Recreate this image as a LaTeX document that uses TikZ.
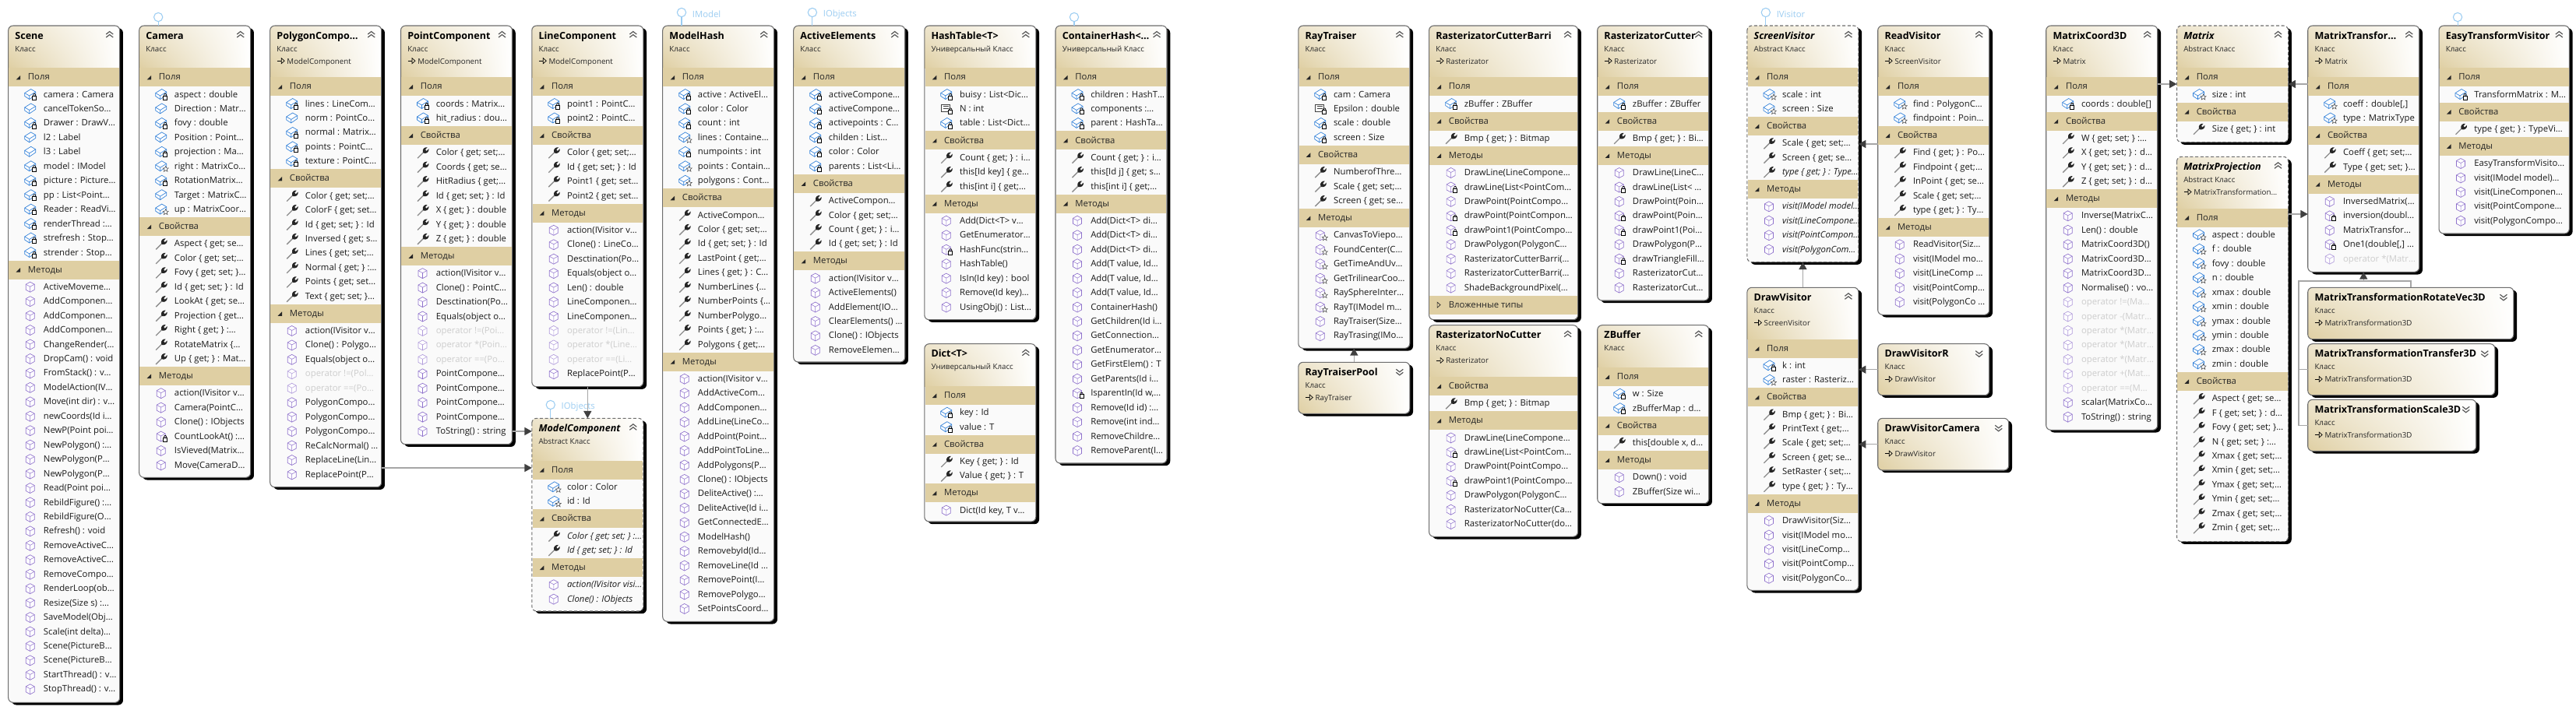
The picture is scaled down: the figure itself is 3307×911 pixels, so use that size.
\documentclass[tikz,border=0pt]{standalone}
\usepackage{fontspec}
\setmainfont{Open Sans}
\usetikzlibrary{positioning, arrows.meta, shadows, shadings}

\definecolor{bartan}{HTML}{DFCFA3}
\definecolor{rowbg}{HTML}{FAFAFA}
\definecolor{boxline}{HTML}{6E6E6E}
\definecolor{linegray}{HTML}{A6A6A6}
\definecolor{tipgray}{HTML}{404040}
\definecolor{fadetext}{HTML}{CDCDCD}
\definecolor{lolliblue}{HTML}{9CCDF2}
\definecolor{cubepurple}{HTML}{8F72CC}
\definecolor{brickblue}{HTML}{2F7FD8}

\newcommand{\rowfont}{\fontsize{8.5}{10}\selectfont}
\newcommand{\smallfont}{\fontsize{7.3}{9}\selectfont}

% icon parts, coordinates in pixels round the row centre
\newcommand{\iconbrick}{\draw[brickblue, line width=.5pt, fill=white] (-7,-2) -- (1,-7) -- (7,-3.5) -- (7,.5) -- (-1,6) -- (-7,2) -- cycle;
  \draw[brickblue, line width=.5pt] (-7,-2) -- (-1,1.5) -- (7,-3.5) (-1,1.5) -- (-1,6);}
\newcommand{\iconcube}[1]{\draw[cubepurple!#1, line width=.5pt, fill=white] (0,-6.5) -- (5.5,-3.5) -- (5.5,3.5) -- (0,6.5) -- (-5.5,3.5) -- (-5.5,-3.5) -- cycle;
  \draw[cubepurple!#1, line width=.4pt] (-5.5,-3.5) -- (0,-.5) -- (5.5,-3.5) (0,-.5) -- (0,6.5);}
\newcommand{\iconlock}{\draw[black, line width=.55pt, fill=white] (3,1.5) rectangle (8,6.5);
  \draw[black, line width=.55pt] (4,1.5) -- (4,0) -- (5,-1) -- (6,-1) -- (7,0) -- (7,1.5);}
\newcommand{\iconstar}{\draw[black!70, line width=.4pt, fill=white] (6,-.5) -- (7,2) -- (9.5,2.2) -- (7.6,3.8) -- (8.3,6.5) -- (6,5) -- (3.7,6.5) -- (4.4,3.8) -- (2.5,2.2) -- (5,2) -- cycle;}

\tikzset{
    classnode/.style={fill=rowbg, rounded corners=4.5pt, anchor=north west, inner sep=0pt, outer sep=0pt,
        drop shadow={shadow xshift=3.2pt, shadow yshift=-2.4pt, opacity=1, fill=black}},
    borderline/.style={draw=boxline, line width=.8pt, rounded corners=4.5pt},
    headshade/.style={lower left=bartan, upper left=bartan!55!white, upper right=white, lower right=white},
    barbox/.style={fill=bartan, anchor=north west, inner sep=0pt, outer sep=0pt, minimum height=18pt},
    titletext/.style={anchor=mid west, inner sep=0pt, font=\fontsize{9.4}{11}\selectfont\bfseries},
    kindtext/.style={anchor=mid west, inner sep=0pt, font=\smallfont, text=black!85},
    bartext/.style={anchor=mid west, inner sep=0pt, font=\rowfont, text=black!85},
    rowtext/.style={anchor=mid west, inner sep=0pt, font=\rowfont, text=black!90},
    txop/.style={text=fadetext},
    txmi/.style={font=\rowfont\itshape},
    txpi/.style={font=\rowfont\itshape},
    abstract/.style={borderline/.style={draw=boxline, line width=.8pt, rounded corners=4.5pt, densely dashed},
        titletext/.style={anchor=mid west, inner sep=0pt, font=\fontsize{9.4}{11}\selectfont\bfseries\itshape}},
    lolli/.style={circle, draw=lolliblue, fill=white, line width=.8pt, minimum size=8.5pt, inner sep=0pt, outer sep=0pt},
    lolliline/.style={draw=lolliblue, line width=.8pt},
    lollitext/.style={anchor=mid west, inner sep=0pt, yshift=-2pt, font=\rowfont, text=lolliblue},
    inherit/.style={draw=linegray, line width=1pt, -{Triangle[length=7pt,width=7.5pt,fill=tipgray,color=tipgray]}},
    treeline/.style={draw=linegray, line width=1pt},
    % member icons
    fl/.pic={\iconbrick \iconlock},
    fp/.pic={\iconbrick},
    fs/.pic={\iconbrick \iconstar},
    cl/.pic={\draw[black!75, line width=.5pt, fill=white] (-6,-6) rectangle (5,3);
        \draw[black!75, line width=.5pt] (-4,-3.5) -- (3,-3.5) (-4,-1) -- (3,-1); \iconlock},
    pr/.pic={\draw[black!45, line width=1pt] (-6.5,7) -- (1,-.5);
        \fill[black!85] (.5,-.5) .. controls (-1,-5) and (3,-7.5) .. (6,-7) -- (3.5,-4) -- (5,-2.2) -- (8,-5) .. controls (8.5,-1) and (5,1.5) .. (1.5,.5) -- cycle;},
    pi/.pic={\draw[black!45, line width=1pt] (-6.5,7) -- (1,-.5);
        \fill[black!85] (.5,-.5) .. controls (-1,-5) and (3,-7.5) .. (6,-7) -- (3.5,-4) -- (5,-2.2) -- (8,-5) .. controls (8.5,-1) and (5,1.5) .. (1.5,.5) -- cycle;},
    me/.pic={\iconcube{100}},
    mi/.pic={\iconcube{100}},
    op/.pic={\iconcube{70}},
    ml/.pic={\iconcube{100} \iconlock},
    ms/.pic={\iconcube{100} \iconstar},
    chevup/.pic={\draw[black!65, line width=.9pt] (-4.5,-1) -- (0,-4.5) -- (4.5,-1) (-4.5,3) -- (0,-.5) -- (4.5,3);},
    chevdown/.pic={\draw[black!65, line width=.9pt] (-4.5,-3) -- (0,.5) -- (4.5,-3) (-4.5,1) -- (0,4.5) -- (4.5,1);},
    inhsign/.pic={\draw[black, line width=.5pt] (0,0) -- (5.5,0); \draw[black, line width=.5pt] (5.5,-3.5) -- (9.5,0) -- (5.5,3.5) -- cycle;},
}

\newcount\seccount

% body of a class: shadow, gradient head, outline, title
\newcommand{\boxbody}[9][]{%
    \begin{scope}[#1]
        \node[classnode, minimum width=#5*0.75pt, minimum height=(#6-#4)*0.75pt] (#2) at (#3,#4) {};
        \begin{scope}
            \clip[rounded corners=4.5pt] (#2.north west) rectangle (#2.south east);
            \shade[headshade] (#3,#4) rectangle (#3+#5,#7);
        \end{scope}
        \draw[borderline] (#2.north west) rectangle (#2.south east);
        \node[titletext] (#2-title) at (#3+8.5,#4+13.7) {#8};
        \node[kindtext] (#2-kind) at (#3+8.5,#4+29.7) {#9};
    \end{scope}
}

% [style]{name}{x}{top}{width}{bottom}{title}{kind}{parent}
\newcommand{\classbox}[9][]{%
    \gdef\cname{#2}\gdef\cx{#3}\gdef\cw{#5}\global\seccount=0
    \def\tmpparent{#9}
    \ifx\tmpparent\empty \pgfmathsetmacro\headh{#4+54.3}\else \pgfmathsetmacro\headh{#4+66.3}\fi
    \xdef\cury{\headh}
    \boxbody[#1]{#2}{#3}{#4}{#5}{#6}{\headh}{#7}{#8}
    \pic at (#3+#5-13,#4+12) {chevup};
    \ifx\tmpparent\empty\else
        \pic at (#3+9,#4+45.2) {inhsign};
        \node[kindtext] (#2-parent) at (#3+21.5,#4+45.7) {#9};
    \fi
}

% {name}{x}{top}{width}{bottom}{title}{parent}
\newcommand{\closedbox}[7]{%
    \boxbody{#1}{#2}{#3}{#4}{#5}{#5}{#6}{Класс}
    \pic at (#2+#4-13,#3+12) {chevdown};
    \pic at (#2+9,#3+45.2) {inhsign};
    \node[kindtext] (#1-parent) at (#2+21.5,#3+45.7) {#7};
}

% bar plus rows, the list holds icon/text pairs
\newcommand{\sect}[2]{%
    \global\advance\seccount by 1
    \edef\secname{\cname-s\the\seccount}
    \node[barbox, minimum width=(\cw-1.5)*0.75pt] (\secname) at (\cx+.75,\cury) {};
    \fill[black!85] (\cx+10,\cury+15) -- (\cx+15.5,\cury+15) -- (\cx+15.5,\cury+9.5) -- cycle;
    \node[bartext] (\secname-label) at (\cx+25,\cury+12) {#1};
    \pgfmathparse{\cury+25}\xdef\cury{\pgfmathresult}
    \foreach \kind/\rowtxt [count=\ri] in {#2} {
        \pgfmathsetmacro\rowy{\cury+9.2}
        \pic at (\cx+28,\rowy) {\kind};
        \node[rowtext, tx\kind/.try] (\secname-r\ri) at (\cx+45,\rowy) {\rowtxt};
        \pgfmathparse{\cury+18.45}\xdef\cury{\pgfmathresult}
    }
    \pgfmathparse{\cury+.8}\xdef\cury{\pgfmathresult}
}

\begin{document}
\begin{tikzpicture}[x=0.75pt, y=-0.75pt]
    \useasboundingbox (0,0) rectangle (3307,911);
    \fill[white] (0,0) rectangle (3307,911);

    % model group
    \classbox{scene}{10.7}{33}{143}{902.3}{Scene}{Класс}{}
    \sect{Поля}{fl/camera : Camera, fp/cancelTokenSo…, fl/Drawer : DrawV…, fp/l2 : Label, fp/l3 : Label, fl/model : IModel, fl/picture : Picture…, fl/pp : List<Point…, fl/Reader : ReadVi…, fl/renderThread :…, fl/strefresh : Stop…, fl/strender : Stop…}
    \sect{Методы}{me/ActiveMoveme…, me/AddComponen…, me/AddComponen…, me/AddComponen…, me/ChangeRender(…, me/DropCam() : void, me/FromStack() : v…, me/ModelAction(IV…, me/Move(int dir) : v…, me/newCoords(Id i…, me/NewP(Point poi…, me/NewPolygon() :…, me/NewPolygon(P…, me/NewPolygon(P…, me/Read(Point poi…, me/RebildFigure() :…, me/RebildFigure(O…, me/Refresh() : void, me/RemoveActiveC…, me/RemoveActiveC…, me/RemoveCompo…, me/RenderLoop(ob…, me/Resize(Size s) :…, me/SaveModel(Obj…, me/Scale(int delta)…, me/Scene(PictureB…, me/Scene(PictureB…, me/StartThread() : v…, me/StopThread() : v…}

    \classbox{camera}{178.7}{33}{143}{613.3}{Camera}{Класс}{}
    \sect{Поля}{fl/aspect : double, fp/Direction : Matr…, fl/fovy : double, fp/Position : Point…, fl/projection : Ma…, fs/right : MatrixCo…, fl/RotationMatrix…, fp/Target : MatrixC…, fs/up : MatrixCoor…}
    \sect{Свойства}{pr/Aspect \{ get; se…, pr/Color \{ get; set;…, pr/Fovy \{ get; set; \}…, pr/Id \{ get; set; \} : Id, pr/LookAt \{ get; se…, pr/Projection \{ get…, pr/Right \{ get; \} :…, pr/RotateMatrix \{…, pr/Up \{ get; \} : Mat…}
    \sect{Методы}{me/action(IVisitor v…, me/Camera(PointC…, me/Clone() : IObjects, ml/CountLookAt() :…, me/IsVieved(Matrix…, me/Move(CameraD…}

    \classbox{polygon}{346.7}{33}{143}{625.7}{PolygonCompo…}{Класс}{ModelComponent}
    \sect{Поля}{fl/lines : LineCom…, fp/norm : PointCo…, fl/normal : Matrix…, fl/points : PointC…, fl/texture : PointC…}
    \sect{Свойства}{pr/Color \{ get; set;…, pr/ColorF \{ get; set…, pr/Id \{ get; set; \} : Id, pr/Inversed \{ get; s…, pr/Lines \{ get; set;…, pr/Normal \{ get; \} :…, pr/Points \{ get; set…, pr/Text \{ get; set; \}…}
    \sect{Методы}{me/action(IVisitor v…, me/Clone() : Polygo…, me/Equals(object o…, op/operator !=(Pol…, op/operator ==(Po…, me/PolygonCompo…, me/PolygonCompo…, me/PolygonCompo…, me/ReCalcNormal() …, me/ReplaceLine(Lin…, me/ReplacePoint(P…}

    \classbox{point}{514.5}{33}{143}{570.7}{PointComponent}{Класс}{ModelComponent}
    \sect{Поля}{fl/coords : Matrix…, fl/hit\_radius : dou…}
    \sect{Свойства}{pr/Color \{ get; set;…, pr/Coords \{ get; se…, pr/HitRadius \{ get;…, pr/Id \{ get; set; \} : Id, pr/X \{ get; \} : double, pr/Y \{ get; \} : double, pr/Z \{ get; \} : double}
    \sect{Методы}{me/action(IVisitor v…, me/Clone() : PointC…, me/Desctination(Po…, me/Equals(object o…, op/operator !=(Poi…, op/operator *(Poin…, op/operator ==(Po…, me/PointCompone…, me/PointCompone…, me/PointCompone…, me/PointCompone…, me/ToString() : string}

    \classbox{line}{682.8}{33}{143}{496.7}{LineComponent}{Класс}{ModelComponent}
    \sect{Поля}{fl/point1 : PointC…, fl/point2 : PointC…}
    \sect{Свойства}{pr/Color \{ get; set;…, pr/Id \{ get; set; \} : Id, pr/Point1 \{ get; set…, pr/Point2 \{ get; set…}
    \sect{Методы}{me/action(IVisitor v…, me/Clone() : LineCo…, me/Desctination(Po…, me/Equals(object o…, me/Len() : double, me/LineComponen…, me/LineComponen…, op/operator !=(Lin…, op/operator *(Line…, op/operator ==(Li…, me/ReplacePoint(P…}

    \classbox[abstract]{modelcomp}{682.8}{537.3}{143}{785}{ModelComponent}{Abstract Класс}{}
    \sect{Поля}{fs/color : Color, fs/id : Id}
    \sect{Свойства}{pi/Color \{ get; set; \} :…, pi/Id \{ get; set; \} : Id}
    \sect{Методы}{mi/action(IVisitor visi…, mi/Clone() : IObjects}

    \classbox{modelhash}{850.7}{33}{143}{798.3}{ModelHash}{Класс}{}
    \sect{Поля}{fl/active : ActiveEl…, fl/color : Color, fl/count : int, fs/lines : Containe…, fl/numpoints : int, fs/points : Contain…, fs/polygons : Cont…}
    \sect{Свойства}{pr/ActiveCompon…, pr/Color \{ get; set;…, pr/Id \{ get; set; \} : Id, pr/LastPoint \{ get;…, pr/Lines \{ get; \} : C…, pr/NumberLines \{…, pr/NumberPoints \{…, pr/NumberPolygo…, pr/Points \{ get; \} :…, pr/Polygons \{ get;…}
    \sect{Методы}{me/action(IVisitor v…, me/AddActiveCom…, me/AddComponen…, me/AddLine(LineCo…, me/AddPoint(Point…, me/AddPointToLine…, me/AddPolygons(P…, me/Clone() : IObjects, me/DeliteActive() :…, me/DeliteActive(Id i…, me/GetConnectedE…, me/ModelHash(), me/RemovebyId(Id…, me/RemoveLine(Id …, me/RemovePoint(I…, me/RemovePolygo…, me/SetPointsCoord…}

    \classbox{activeel}{1018.7}{33}{143}{465}{ActiveElements}{Класс}{}
    \sect{Поля}{fl/activeCompone…, fl/activeCompone…, fl/activepoints : C…, fl/childen : List…, fl/color : Color, fl/parents : List<Li…}
    \sect{Свойства}{pr/ActiveCompon…, pr/Color \{ get; set;…, pr/Count \{ get; \} : i…, pr/Id \{ get; set; \} : Id}
    \sect{Методы}{me/action(IVisitor v…, me/ActiveElements(), me/AddElement(IO…, me/ClearElements() …, me/Clone() : IObjects, me/RemoveElemen…}

    \classbox{hashtable}{1186.8}{33}{143}{410.7}{HashTable<T>}{Универсальный Класс}{}
    \sect{Поля}{fl/buisy : List<Dic…, cl/N : int, fl/table : List<Dict…}
    \sect{Свойства}{pr/Count \{ get; \} : i…, pr/this[Id key] \{ ge…, pr/this[int i] \{ get;…}
    \sect{Методы}{me/Add(Dict<T> v…, me/GetEnumerator…, ml/HashFunc(strin…, me/HashTable(), me/IsIn(Id key) : bool, me/Remove(Id key)…, me/UsingObj() : List…}

    \classbox{dict}{1186.8}{441.7}{143}{670}{Dict<T>}{Универсальный Класс}{}
    \sect{Поля}{fl/key : Id, fl/value : T}
    \sect{Свойства}{pr/Key \{ get; \} : Id, pr/Value \{ get; \} : T}
    \sect{Методы}{me/{Dict(Id key, T v…}}

    \classbox{containerh}{1355}{33}{143}{595}{ContainerHash<…}{Универсальный Класс}{}
    \sect{Поля}{fl/children : HashT…, fl/components :…, fl/parent : HashTa…}
    \sect{Свойства}{pr/Count \{ get; \} : i…, pr/this[Id j] \{ get; s…, pr/this[int i] \{ get;…}
    \sect{Методы}{me/Add(Dict<T> di…, me/Add(Dict<T> di…, me/Add(Dict<T> di…, me/{Add(T value, Id…}, me/{Add(T value, Id…}, me/{Add(T value, Id…}, me/ContainerHash(), me/GetChildren(Id i…, me/GetConnection…, me/GetEnumerator…, me/GetFirstElem() : T, me/GetParents(Id i…, ml/{IsparentIn(Id w,…}, me/Remove(Id id) :…, me/Remove(int ind…, me/RemoveChildre…, me/RemoveParent(I…}

    % render group
    \classbox{raytr}{1666.8}{33}{143}{447.3}{RayTraiser}{Класс}{}
    \sect{Поля}{fl/cam : Camera, cl/Epsilon : double, fl/scale : double, fl/screen : Size}
    \sect{Свойства}{pr/NumberofThre…, pr/Scale \{ get; set;…, pr/Screen \{ get; se…}
    \sect{Методы}{ms/CanvasToViepo…, ms/FoundCenter(C…, ms/GetTimeAndUv…, ms/GetTrilinearCoo…, ms/RaySphereInter…, ms/RayT(IModel m…, me/RayTraiser(Size…, me/RayTrasing(IMo…}

    \closedbox{raypool}{1666.8}{465.3}{143}{531.3}{RayTraiserPool}{RayTraiser}

    \classbox{barri}{1834.6}{33}{191}{410.7}{RasterizatorCutterBarri}{Класс}{Rasterizator}
    \sect{Поля}{fl/zBuffer : ZBuffer}
    \sect{Свойства}{pr/Bmp \{ get; \} : Bitmap}
    \sect{Методы}{me/DrawLine(LineCompone…, ml/drawLine(List<PointCom…, me/DrawPoint(PointCompo…, ml/drawPoint(PointCompon…, ml/drawPoint1(PointCompo…, me/DrawPolygon(PolygonC…, me/RasterizatorCutterBarri(…, me/RasterizatorCutterBarri(…, me/ShadeBackgroundPixel(…}
    \node[barbox, minimum width=189.5*0.75pt] (barri-nested) at (\cx+.75,\cury) {};
    \draw[black!85, line width=.5pt] (\cx+10.5,\cury+8.5) -- (\cx+14.5,\cury+12) -- (\cx+10.5,\cury+15.5) -- cycle;
    \node[bartext] (barri-nested-label) at (\cx+25,\cury+12) {Вложенные типы};

    \classbox{nocutter}{1834.6}{417.7}{191}{689.3}{RasterizatorNoCutter}{Класс}{Rasterizator}
    \sect{Свойства}{pr/Bmp \{ get; \} : Bitmap}
    \sect{Методы}{me/DrawLine(LineCompone…, ml/drawLine(List<PointCom…, me/DrawPoint(PointCompo…, ml/drawPoint1(PointCompo…, me/DrawPolygon(PolygonC…, me/RasterizatorNoCutter(Ca…, me/RasterizatorNoCutter(do…}

    \classbox{cutter}{2050.7}{33}{143}{386}{RasterizatorCutter}{Класс}{Rasterizator}
    \sect{Поля}{fl/zBuffer : ZBuffer}
    \sect{Свойства}{pr/Bmp \{ get; \} : Bi…}
    \sect{Методы}{me/DrawLine(LineC…, ml/drawLine(List< …, me/DrawPoint(Poin…, ml/drawPoint(Poin…, ml/drawPoint1(Poi…, me/DrawPolygon(P…, ml/drawTriangleFill…, me/RasterizatorCut…, me/RasterizatorCut…}

    \classbox{zbuffer}{2050.7}{417.7}{143}{646.7}{ZBuffer}{Класс}{}
    \sect{Поля}{fl/w : Size, fl/zBufferMap : d…}
    \sect{Свойства}{pr/{this[double x, d…}}
    \sect{Методы}{me/Down() : void, me/ZBuffer(Size wi…}

    % visitors
    \classbox[abstract]{screenv}{2242.9}{33}{143}{336.7}{ScreenVisitor}{Abstract Класс}{}
    \sect{Поля}{fs/scale : int, fs/screen : Size}
    \sect{Свойства}{pr/Scale \{ get; set;…, pr/Screen \{ get; se…, pi/type \{ get; \} : Type…}
    \sect{Методы}{mi/visit(IModel model…, mi/visit(LineCompone…, mi/visit(PointCompon…, mi/visit(PolygonCom…}

    \classbox{drawv}{2242.9}{369.3}{143}{758.3}{DrawVisitor}{Класс}{ScreenVisitor}
    \sect{Поля}{fl/k : int, fs/raster : Rasteriz…}
    \sect{Свойства}{pr/Bmp \{ get; \} : Bi…, pr/PrintText \{ get;…, pr/Scale \{ get; set;…, pr/Screen \{ get; se…, pr/SetRaster \{ set;…, pr/type \{ get; \} : Ty…}
    \sect{Методы}{me/DrawVisitor(Siz…, me/visit(IModel mo…, me/visit(LineComp…, me/visit(PointComp…, me/visit(PolygonCo…}

    \classbox{readv}{2410.7}{33}{143}{404.3}{ReadVisitor}{Класс}{ScreenVisitor}
    \sect{Поля}{fs/find : PolygonC…, fs/findpoint : Poin…}
    \sect{Свойства}{pr/Find \{ get; \} : Po…, pr/Findpoint \{ get;…, pr/InPoint \{ get; se…, pr/Scale \{ get; set;…, pr/type \{ get; \} : Ty…}
    \sect{Методы}{me/ReadVisitor(Siz…, me/visit(IModel mo…, me/visit(LineComp …, me/visit(PointComp…, me/visit(PolygonCo …}

    \closedbox{drawr}{2410.7}{441.7}{143}{507.7}{DrawVisitorR}{DrawVisitor}
    \closedbox{drawcam}{2410.7}{537.3}{168}{604}{DrawVisitorCamera}{DrawVisitor}

    % matrices
    \classbox{matcoord}{2626.7}{33}{143}{552.3}{MatrixCoord3D}{Класс}{Matrix}
    \sect{Поля}{fl/coords : double[]}
    \sect{Свойства}{pr/W \{ get; set; \} :…, pr/X \{ get; set; \} : d…, pr/Y \{ get; set; \} : d…, pr/Z \{ get; set; \} : d…}
    \sect{Методы}{me/Inverse(MatrixC…, me/Len() : double, me/MatrixCoord3D(), me/MatrixCoord3D…, me/MatrixCoord3D…, me/Normalise() : vo…, op/operator !=(Ma…, op/operator -(Matr…, op/operator *(Matr…, op/operator *(Matr…, op/operator *(Matr…, op/operator +(Mat…, op/operator ==(M…, me/scalar(MatrixCo…, me/ToString() : string}

    \classbox[abstract]{matrix}{2794.5}{33}{143}{182.7}{Matrix}{Abstract Класс}{}
    \sect{Поля}{fs/size : int}
    \sect{Свойства}{pr/Size \{ get; \} : int}

    \classbox[abstract]{matproj}{2794.5}{201.3}{143}{695.7}{MatrixProjection}{Abstract Класс}{MatrixTransformation…}
    \sect{Поля}{fs/aspect : double, fs/f : double, fs/fovy : double, fs/n : double, fs/xmax : double, fs/xmin : double, fs/ymax : double, fs/ymin : double, fs/zmax : double, fs/zmin : double}
    \sect{Свойства}{pr/Aspect \{ get; se…, pr/F \{ get; set; \} : d…, pr/Fovy \{ get; set; \}…, pr/N \{ get; set; \} :…, pr/Xmax \{ get; set;…, pr/Xmin \{ get; set;…, pr/Ymax \{ get; set;…, pr/Ymin \{ get; set;…, pr/Zmax \{ get; set;…, pr/Zmin \{ get; set;…}

    \classbox{mattrans}{2962.7}{33}{143}{349.3}{MatrixTransfor…}{Класс}{Matrix}
    \sect{Поля}{fs/{coeff : double[,]}, fs/type : MatrixType}
    \sect{Свойства}{pr/Coeff \{ get; set;…, pr/Type \{ get; set; \}…}
    \sect{Методы}{me/InversedMatrix(…, ml/inversion(doubl…, me/MatrixTransfor…, ml/{One1(double[,] …}, op/operator *(Matr…}

    \classbox{easytr}{3131}{33}{167.3}{300}{EasyTransformVisitor}{Класс}{}
    \sect{Поля}{fl/TransformMatrix : M…}
    \sect{Свойства}{pr/type \{ get; \} : TypeVi…}
    \sect{Методы}{me/EasyTransformVisito…, me/visit(IModel model)…, me/visit(LineComponen…, me/visit(PointCompone…, me/visit(PolygonCompo…}

    \closedbox{rotvec}{2962.7}{369.3}{264.2}{435.7}{MatrixTransformationRotateVec3D}{MatrixTransformation3D}
    \closedbox{transfer}{2962.7}{441.7}{240.1}{507.7}{MatrixTransformationTransfer3D}{MatrixTransformation3D}
    \closedbox{matscale}{2962.7}{513.3}{216}{579.3}{MatrixTransformationScale3D}{MatrixTransformation3D}

    % interfaces
    \node[lolli] (camerai) at (203.2,22) {};
    \draw[lolliline] (camerai) -- (camera.north -| camerai);
    \node[lolli] (modelhashi) at (875,16) {};
    \draw[lolliline] (modelhashi) -- (modelhash.north -| modelhashi);
    \node[lollitext, right=6pt of modelhashi] (modelhashl) {IModel};
    \node[lolli] (activeeli) at (1042.9,16) {};
    \draw[lolliline] (activeeli) -- (activeel.north -| activeeli);
    \node[lollitext, right=6pt of activeeli] (activeell) {IObjects};
    \node[lolli] (containeri) at (1379,22) {};
    \draw[lolliline] (containeri) -- (containerh.north -| containeri);
    \node[lolli] (modelcompi) at (706.8,520) {};
    \draw[lolliline] (modelcompi) -- (modelcomp.north -| modelcompi);
    \node[lollitext, right=6pt of modelcompi] (modelcompl) {IObjects};
    \node[lolli] (screenvi) at (2266.8,16) {};
    \draw[lolliline] (screenvi) -- (screenv.north -| screenvi);
    \node[lollitext, right=6pt of screenvi] (screenvl) {IVisitor};
    \node[lolli] (easytri) at (3155,22) {};
    \draw[lolliline] (easytri) -- (easytr.north -| easytri);

    % inheritance
    \draw[inherit] (line.south) -- (modelcomp.north);
    \draw[inherit] (point.east |- 0,554) -- (modelcomp.west |- 0,554);
    \draw[inherit] (polygon.east |- 0,601) -- (modelcomp.west |- 0,601);
    \draw[inherit] (raypool.north) -- (raytr.south);
    \draw[inherit] (drawv.north) -- (screenv.south);
    \draw[inherit] (readv.west |- 0,185) -- (screenv.east |- 0,185);
    \draw[inherit] (drawr.west) -- (drawr.west -| drawv.east);
    \draw[inherit] (drawcam.west) -- (drawcam.west -| drawv.east);
    \draw[inherit] (matcoord.east |- 0,108) -- (matrix.west |- 0,108);
    \draw[inherit] (mattrans.west |- 0,108) -- (matrix.east |- 0,108);
    \draw[inherit] (matproj.east |- 0,275) -- (mattrans.west |- 0,275);
    \coordinate (transjoin) at (mattrans.south |- 0,361);
    \coordinate (transtrunk) at (2950.8,361);
    \draw[inherit] (transjoin) -- (mattrans.south);
    \draw[treeline] (rotvec.north) |- (transtrunk) -- (transtrunk |- matscale.west) -- (matscale.west);
    \draw[treeline] (transtrunk |- transfer.west) -- (transfer.west);
\end{tikzpicture}
\end{document}
